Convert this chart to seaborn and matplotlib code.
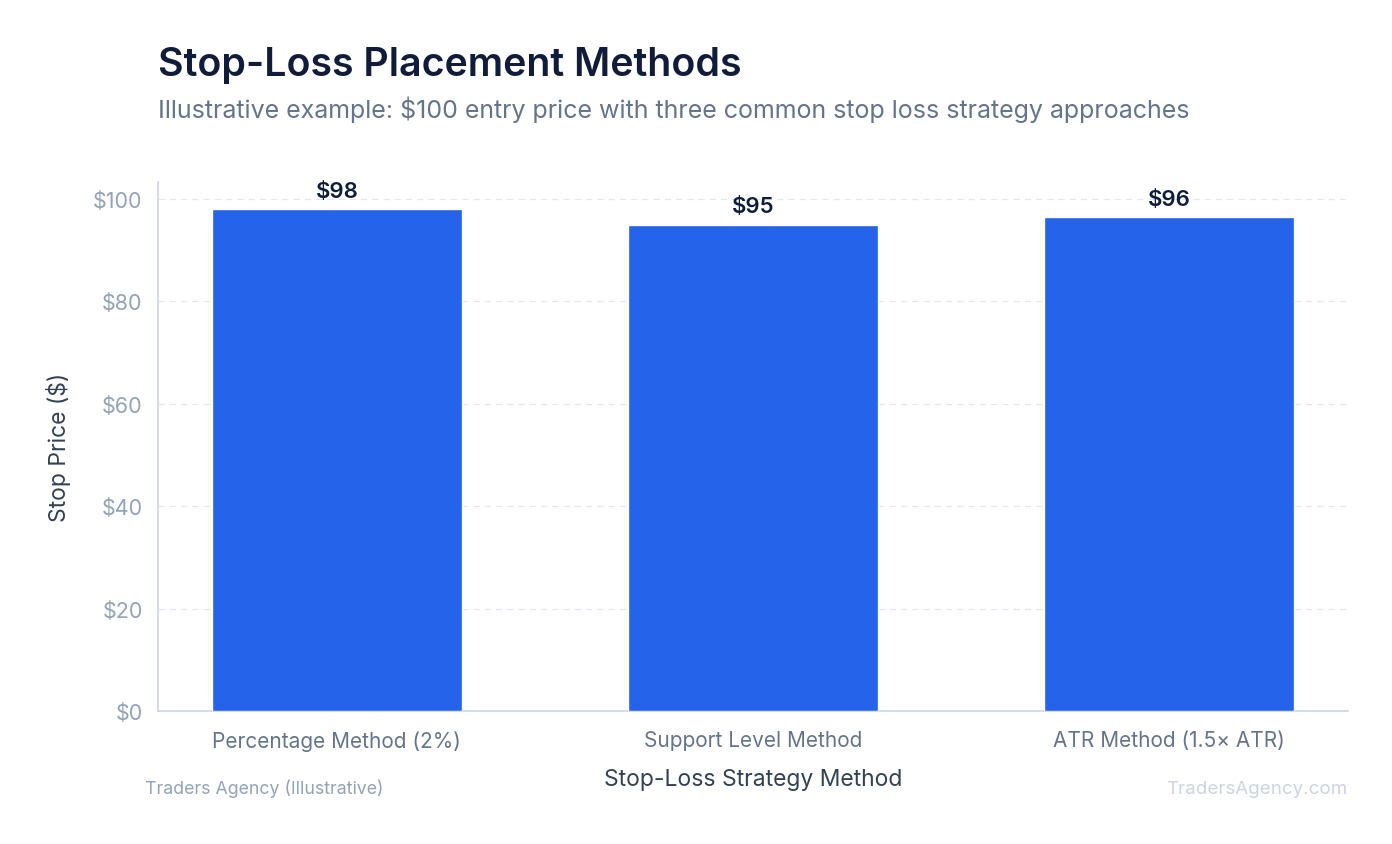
import matplotlib
matplotlib.use("Agg")
import matplotlib.pyplot as plt
import seaborn as sns
import pandas as pd
from matplotlib.ticker import FuncFormatter

methods = ["Percentage Method (2%)", "Support Level Method", "ATR Method (1.5× ATR)"]
stop_prices = [98.0, 95.0, 96.5]
bar_labels = ["$98", "$95", "$96"]

sns.set_theme(style="white")
plt.rcParams["font.family"] = ["Inter", "DejaVu Sans"]

df = pd.DataFrame({"method": methods, "price": stop_prices})

fig = plt.figure(figsize=(13.92, 8.45), dpi=100)
ax = fig.add_axes([0.1135, 0.1574, 0.855, 0.626])

sns.barplot(data=df, x="method", y="price", color="#2563EB", width=0.6,
            saturation=1, ax=ax, zorder=3)

ax.set_ylim(0, 103.3)
ax.set_xlim(-0.43, 2.43)
ax.set_yticks([0, 20, 40, 60, 80, 100])
ax.yaxis.set_major_formatter(FuncFormatter(lambda v, p: f"${v:.0f}"))
ax.grid(axis="y", color="#e2e8f0", linestyle=(0, (5, 4)), linewidth=0.9, zorder=0)
ax.set_axisbelow(True)

for s in ["top", "right"]:
    ax.spines[s].set_visible(False)
for s in ["left", "bottom"]:
    ax.spines[s].set_color("#cbd5e1")
    ax.spines[s].set_linewidth(1.2)

ax.tick_params(axis="y", colors="#94a3b8", labelsize=15.5, length=5, width=0.8, pad=6)
ax.tick_params(axis="x", colors="#94a3b8", labelcolor="#64748b", labelsize=15, length=5, width=0.8, pad=9)

ax.set_xlabel("Stop-Loss Strategy Method", fontsize=16.5, color="#334155", labelpad=12)
ax.set_ylabel("Stop Price ($)", fontsize=16.5, color="#334155", labelpad=16)

for i, (v, lab) in enumerate(zip(stop_prices, bar_labels)):
    ax.annotate(lab, (i, v), xytext=(0, 6), textcoords="offset points",
                ha="center", va="bottom", fontsize=16, fontweight="semibold", color="#0f1d3d")

fig.text(0.1135, 0.9, "Stop-Loss Placement Methods", fontsize=28.3, fontweight="semibold",
         color="#111c3a", ha="left", va="bottom")
fig.text(0.1135, 0.855, "Illustrative example: $100 entry price with three common stop loss strategy approaches",
         fontsize=18, color="#64748b", ha="left", va="bottom")
fig.text(0.104, 0.066, "Traders Agency (Illustrative)", fontsize=12.75, color="#94a3b8",
         ha="left", va="center")
fig.text(0.968, 0.066, "TradersAgency.com", fontsize=13.5, color="#cbd5e1",
         ha="right", va="center")

fig.savefig("out.png", dpi=100)
